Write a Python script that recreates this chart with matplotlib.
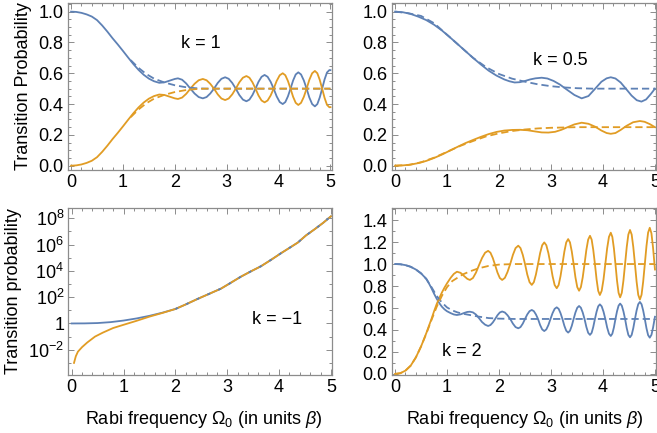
import numpy as np
import matplotlib
matplotlib.use("Agg")
import matplotlib.pyplot as plt
from matplotlib.ticker import MultipleLocator, FixedLocator, NullFormatter, FormatStrFormatter

plt.rcParams['font.family'] = ['Liberation Sans', 'DejaVu Sans']
plt.rcParams['mathtext.fontset'] = 'custom'
plt.rcParams['mathtext.rm'] = 'Liberation Sans'
plt.rcParams['mathtext.it'] = 'Liberation Sans:italic'
plt.rcParams['mathtext.bf'] = 'Liberation Sans:bold'

BLUE = '#5E81B5'
ORANGE = '#E19C24'
FRAME = '#8c8c8c'

# ---------------- k = 1 (top left) ----------------
k1_x = [0.0, 0.1, 0.2, 0.3, 0.4, 0.5, 0.6, 0.7, 0.8, 0.9, 1.0, 1.1, 1.2, 1.3, 1.4, 1.5,
        1.6, 1.7, 1.8, 1.9, 2.0, 2.06,
        2.14, 2.22, 2.30, 2.38, 2.46, 2.54,
        2.612, 2.683, 2.755, 2.827, 2.898, 2.97,
        3.038, 3.107, 3.175, 3.243, 3.312, 3.38,
        3.438, 3.497, 3.555, 3.613, 3.672, 3.73,
        3.788, 3.847, 3.905, 3.963, 4.022, 4.08,
        4.13, 4.18, 4.23, 4.28, 4.33, 4.38,
        4.433, 4.487, 4.54, 4.593, 4.647, 4.70,
        4.747, 4.793, 4.84, 4.887, 4.933, 4.98, 5.0]
k1_blue = [1.0, 0.998, 0.992, 0.982, 0.968, 0.945, 0.91, 0.87, 0.827, 0.787, 0.745, 0.702,
           0.66, 0.622, 0.59, 0.565, 0.548, 0.538, 0.541, 0.552, 0.563, 0.567,
           0.558, 0.5335, 0.5, 0.4685, 0.4455, 0.437,
           0.4455, 0.4685, 0.5, 0.537, 0.564, 0.574,
           0.564, 0.537, 0.5, 0.459, 0.429, 0.418,
           0.429, 0.459, 0.5, 0.5445, 0.577, 0.589,
           0.577, 0.5445, 0.5, 0.45, 0.413, 0.40,
           0.413, 0.45, 0.5, 0.553, 0.592, 0.606,
           0.592, 0.553, 0.5, 0.4425, 0.4, 0.385,
           0.4, 0.4425, 0.5, 0.5605, 0.605, 0.621, 0.62]
k1_orange = [0.0, 0.002, 0.008, 0.018, 0.032, 0.055, 0.09, 0.13, 0.173, 0.213, 0.255, 0.298,
             0.34, 0.378, 0.41, 0.435, 0.452, 0.462, 0.459, 0.448, 0.437, 0.433,
             0.442, 0.4665, 0.5, 0.5315, 0.5545, 0.563,
             0.5545, 0.5315, 0.5, 0.463, 0.436, 0.426,
             0.436, 0.463, 0.5, 0.541, 0.571, 0.582,
             0.571, 0.541, 0.5, 0.4555, 0.423, 0.411,
             0.423, 0.4555, 0.5, 0.55, 0.587, 0.60,
             0.587, 0.55, 0.5, 0.447, 0.408, 0.394,
             0.408, 0.447, 0.5, 0.5575, 0.6, 0.615,
             0.6, 0.5575, 0.5, 0.4395, 0.395, 0.379, 0.38]
k1_dash_x = [1.15, 1.3, 1.45, 1.6, 1.8, 2.0, 2.2, 2.4, 2.6, 5.0]
k1_dash_blue = [0.685, 0.635, 0.595, 0.565, 0.54, 0.522, 0.51, 0.503, 0.5, 0.5]
k1_dash_orange = [0.315, 0.365, 0.405, 0.435, 0.46, 0.478, 0.49, 0.497, 0.5, 0.5]

# ---------------- k = 0.5 (top right) ----------------
k05_bx = [0.0, 0.15, 0.3, 0.45, 0.6, 0.75, 0.9, 1.05, 1.2, 1.35, 1.5, 1.65, 1.8, 1.95,
          2.1, 2.2, 2.3, 2.4, 2.5, 2.6, 2.7, 2.82, 2.93, 3.05, 3.17, 3.3, 3.45, 3.59, 3.72,
          3.85, 3.97, 4.07, 4.15, 4.24, 4.34, 4.44, 4.55, 4.65, 4.74, 4.83, 4.92, 5.0]
k05_blue = [1.0, 0.996, 0.985, 0.967, 0.945, 0.915, 0.878, 0.835, 0.79, 0.745, 0.70, 0.657,
            0.617, 0.585, 0.56, 0.548, 0.54, 0.542, 0.55, 0.56, 0.567, 0.571, 0.566, 0.55,
            0.527, 0.495, 0.459, 0.437, 0.452, 0.5, 0.545, 0.567, 0.574, 0.566, 0.54, 0.5,
            0.455, 0.425, 0.416, 0.43, 0.465, 0.5]
k05_ox = [0.0, 0.15, 0.3, 0.45, 0.6, 0.75, 0.9, 1.05, 1.2, 1.35, 1.5, 1.65, 1.8, 1.95, 2.1,
          2.25, 2.4, 2.55, 2.7, 2.82, 2.95, 3.08, 3.2, 3.32, 3.45, 3.59, 3.72, 3.85, 3.97,
          4.07, 4.15, 4.24, 4.34, 4.45, 4.58, 4.71, 4.8, 4.9, 5.0]
k05_orange = [0.0, 0.002, 0.007, 0.017, 0.031, 0.05, 0.072, 0.097, 0.122, 0.146, 0.167,
              0.187, 0.205, 0.219, 0.228, 0.232, 0.233, 0.23, 0.222, 0.216, 0.215, 0.22,
              0.233, 0.25, 0.268, 0.279, 0.272, 0.253, 0.228, 0.212, 0.207, 0.212, 0.232,
              0.258, 0.282, 0.29, 0.285, 0.27, 0.25]
k05_dx = [0.0, 0.25, 0.5, 0.75, 1.0, 1.25, 1.5, 1.75, 2.0, 2.25, 2.5, 2.75, 3.0, 3.25, 3.5,
          3.8, 5.0]
k05_dash_blue = [1.0, 0.99, 0.972, 0.925, 0.85, 0.775, 0.70, 0.64, 0.595, 0.565, 0.545,
                 0.528, 0.516, 0.508, 0.503, 0.5, 0.5]
k05_dash_orange = [0.0, 0.004, 0.022, 0.052, 0.09, 0.128, 0.16, 0.19, 0.21, 0.225, 0.235,
                   0.242, 0.246, 0.248, 0.25, 0.25, 0.25]

# ---------------- k = -1 (bottom left, log scale) ----------------
km1_bx = [0.0, 0.25, 0.5, 0.75, 1.0, 1.25, 1.5, 1.75, 2.0, 2.2, 2.42, 2.65, 2.88, 3.05,
          3.26, 3.45, 3.65, 3.85, 4.04, 4.2, 4.36, 4.52, 4.68, 4.85, 5.0]
km1_blue = [1.0, 1.012, 1.072, 1.26, 1.66, 2.4, 3.8, 6.6, 12.6, 28, 71, 178, 447, 1120,
            3550, 8900, 2.24e4, 7.1e4, 2.24e5, 5.6e5, 1.41e6, 5.0e6, 1.41e7, 4.5e7, 1.41e8]
km1_ox = [0.045, 0.08, 0.12, 0.2, 0.3, 0.45, 0.6, 0.8, 1.0, 1.25, 1.5, 1.75, 2.0, 2.2, 2.42,
          2.65, 2.88, 3.05, 3.26, 3.45, 3.65, 3.85, 4.04, 4.2, 4.36, 4.52, 4.68, 4.85, 5.0]
km1_orange = [1.0e-3, 3.2e-3, 7.1e-3, 0.0158, 0.0355, 0.1, 0.2, 0.45, 0.79, 1.58, 3.3, 6.3,
              12.6, 28, 71, 178, 447, 1120, 3550, 8900, 2.24e4, 7.1e4, 2.24e5, 5.6e5,
              1.41e6, 5.0e6, 1.41e7, 4.5e7, 1.41e8]

# ---------------- k = 2 (bottom right) ----------------
k2_x = [0.0, 0.1, 0.2, 0.3, 0.4, 0.5, 0.6, 0.65, 0.7, 0.75, 0.8, 0.85, 0.9, 0.95, 1.0,
        1.07, 1.13, 1.19, 1.26, 1.33, 1.39, 1.44, 1.498, 1.557, 1.615, 1.673, 1.732, 1.79,
        1.835, 1.88, 1.925, 1.97, 2.015, 2.06,
        2.112, 2.163, 2.215, 2.267, 2.318, 2.37,
        2.413, 2.457, 2.5, 2.543, 2.587, 2.63,
        2.67, 2.71, 2.75, 2.79, 2.83, 2.87,
        2.91, 2.95, 2.99, 3.03, 3.07, 3.11,
        3.147, 3.183, 3.22, 3.257, 3.293, 3.33,
        3.365, 3.4, 3.435, 3.47, 3.505, 3.54,
        3.575, 3.61, 3.645, 3.68, 3.715, 3.75,
        3.782, 3.813, 3.845, 3.877, 3.908, 3.94,
        3.975, 4.01, 4.045, 4.08, 4.115, 4.15,
        4.18, 4.21, 4.24, 4.27, 4.3, 4.33,
        4.362, 4.393, 4.425, 4.457, 4.488, 4.52,
        4.552, 4.583, 4.615, 4.647, 4.678, 4.71,
        4.742, 4.773, 4.805, 4.837, 4.868, 4.90,
        4.932, 4.963, 5.0]
k2_blue = [1.0, 0.998, 0.99, 0.975, 0.95, 0.915, 0.865, 0.825, 0.78, 0.73, 0.685, 0.645,
           0.612, 0.588, 0.57, 0.553, 0.541, 0.536, 0.542, 0.555, 0.564, 0.566, 0.56,
           0.54, 0.507, 0.472, 0.448, 0.436,
           0.445, 0.468, 0.5, 0.534, 0.559, 0.568,
           0.559, 0.534, 0.5, 0.4575, 0.426, 0.415,
           0.426, 0.4575, 0.5, 0.541, 0.571, 0.582,
           0.571, 0.541, 0.5, 0.445, 0.405, 0.39,
           0.405, 0.445, 0.5, 0.553, 0.592, 0.606,
           0.592, 0.553, 0.5, 0.438, 0.393, 0.376,
           0.393, 0.438, 0.5, 0.559, 0.602, 0.618,
           0.602, 0.559, 0.5, 0.4275, 0.374, 0.355,
           0.374, 0.4275, 0.5, 0.5665, 0.615, 0.633,
           0.615, 0.5665, 0.5, 0.4225, 0.366, 0.345,
           0.366, 0.4225, 0.5, 0.57, 0.621, 0.64,
           0.621, 0.57, 0.5, 0.4165, 0.355, 0.333,
           0.355, 0.4165, 0.5, 0.5775, 0.634, 0.655,
           0.634, 0.5775, 0.5, 0.415, 0.353, 0.33,
           0.355, 0.42, 0.52]
k2_orange = [0.0, 0.006, 0.03, 0.075, 0.15, 0.25, 0.37, 0.435, 0.5, 0.57, 0.635, 0.69,
             0.74, 0.785, 0.825, 0.875, 0.91, 0.93, 0.92, 0.89, 0.865, 0.855, 0.873,
             0.9225, 0.99, 1.055, 1.103, 1.12,
             1.103, 1.055, 0.99, 0.9225, 0.873, 0.855,
             0.874, 0.9275, 1.0, 1.0835, 1.145, 1.167,
             1.145, 1.0835, 1.0, 0.905, 0.835, 0.81,
             0.835, 0.905, 1.0, 1.0985, 1.171, 1.197,
             1.171, 1.0985, 1.0, 0.89, 0.809, 0.78,
             0.809, 0.89, 1.0, 1.1135, 1.197, 1.227,
             1.197, 1.1135, 1.0, 0.8785, 0.79, 0.757,
             0.79, 0.8785, 1.0, 1.1285, 1.2225, 1.257,
             1.2225, 1.1285, 1.0, 0.859, 0.756, 0.718,
             0.756, 0.859, 1.0, 1.1425, 1.247, 1.285,
             1.247, 1.1425, 1.0, 0.8485, 0.738, 0.697,
             0.738, 0.8485, 1.0, 1.155, 1.2685, 1.31,
             1.2685, 1.155, 1.0, 0.8385, 0.72, 0.677,
             0.72, 0.8385, 1.0, 1.165, 1.286, 1.33,
             1.28, 1.15, 0.95]
k2_dx = [0.0, 0.1, 0.2, 0.3, 0.4, 0.5, 0.6, 0.7, 0.8, 0.9, 1.0, 1.1, 1.2, 1.3, 1.45, 1.6,
         1.8, 2.0, 2.3, 5.0]
k2_dash_blue = [1.0, 0.998, 0.99, 0.975, 0.95, 0.915, 0.865, 0.79, 0.71, 0.65, 0.605, 0.578,
                0.56, 0.548, 0.535, 0.522, 0.508, 0.503, 0.5, 0.5]
k2_dash_orange = [0.0, 0.006, 0.03, 0.075, 0.15, 0.25, 0.365, 0.49, 0.61, 0.71, 0.79, 0.845,
                  0.875, 0.905, 0.935, 0.96, 0.983, 0.995, 1.0, 1.0]

XLABEL = r'Rabi frequency $\Omega_0$ (in units $\it{\beta}$)'
FS = 13

W, H = 657, 433
fig = plt.figure(figsize=(W / 100, H / 100), dpi=100)


def px_axes(left, top, right, bottom):
    return fig.add_axes([left / W, 1 - bottom / H, (right - left) / W, (bottom - top) / H])


def style(ax):
    for s in ax.spines.values():
        s.set_color(FRAME)
        s.set_linewidth(0.9)
    ax.tick_params(which='both', direction='in', top=True, right=True, color=FRAME,
                   labelsize=FS, labelcolor='black', width=0.7)
    ax.tick_params(which='major', length=4, pad=3)
    ax.tick_params(which='minor', length=2)


LW = 1.3
DASH = (0, (4.0, 2.2))

ax1 = px_axes(67.7, 3, 331.5, 170)
ax2 = px_axes(391.7, 3, 656, 170)
ax3 = px_axes(68.3, 208, 332, 375)
ax4 = px_axes(391.7, 208, 656, 375)

for ax in (ax1, ax2, ax3, ax4):
    style(ax)
    ax.set_xlim(-0.065, 5.02)
    ax.xaxis.set_major_locator(MultipleLocator(1))
    ax.xaxis.set_minor_locator(MultipleLocator(0.2))

# top-left
ax1.plot(k1_x, k1_blue, color=BLUE, lw=LW)
ax1.plot(k1_x, k1_orange, color=ORANGE, lw=LW)
ax1.plot(k1_dash_x, k1_dash_blue, color=BLUE, lw=LW, linestyle=DASH)
ax1.plot(k1_dash_x, k1_dash_orange, color=ORANGE, lw=LW, linestyle=DASH)
ax1.set_ylim(-0.028, 1.056)
ax1.yaxis.set_major_locator(MultipleLocator(0.2))
ax1.yaxis.set_minor_locator(MultipleLocator(0.05))
ax1.yaxis.set_major_formatter(FormatStrFormatter('%.1f'))
ax1.set_ylabel('Transition Probability', fontsize=FS)
ax1.yaxis.set_label_coords(-0.136, 0.5)
ax1.text(2.5, 0.795, 'k = 1', fontsize=FS, ha='center', va='center')

# top-right
ax2.plot(k05_bx, k05_blue, color=BLUE, lw=LW)
ax2.plot(k05_ox, k05_orange, color=ORANGE, lw=LW)
ax2.plot(k05_dx, k05_dash_blue, color=BLUE, lw=LW, linestyle=DASH)
ax2.plot(k05_dx, k05_dash_orange, color=ORANGE, lw=LW, linestyle=DASH)
ax2.set_ylim(-0.028, 1.056)
ax2.yaxis.set_major_locator(MultipleLocator(0.2))
ax2.yaxis.set_minor_locator(MultipleLocator(0.05))
ax2.yaxis.set_major_formatter(FormatStrFormatter('%.1f'))
ax2.text(3.17, 0.686, 'k = 0.5', fontsize=FS, ha='center', va='center')

# bottom-left
ax3.set_yscale('log')
ax3.plot(km1_bx, km1_blue, color=BLUE, lw=LW)
ax3.plot(km1_ox, km1_orange, color=ORANGE, lw=LW)
ax3.plot(km1_bx[8:], km1_blue[8:], color=BLUE, lw=LW, linestyle=(0, (1.5, 5)))
ax3.set_ylim(10 ** -3.92, 10 ** 8.78)
ax3.yaxis.set_major_locator(FixedLocator([1e-2, 1, 1e2, 1e4, 1e6, 1e8]))
ax3.yaxis.set_minor_locator(FixedLocator([1e-3, 1e-1, 1e1, 1e3, 1e5, 1e7]))
ax3.yaxis.set_minor_formatter(NullFormatter())
ax3.set_yticklabels([r'$10^{-2}$', '1', r'$10^{2}$', r'$10^{4}$', r'$10^{6}$', r'$10^{8}$'])
ax3.set_ylabel('Transition probability', fontsize=FS)
ax3.yaxis.set_label_coords(-0.176, 0.5)
ax3.text(3.97, 2.1, 'k = \u22121', fontsize=FS, ha='center', va='center')
ax3.set_xlabel(XLABEL, fontsize=FS)
ax3.xaxis.set_label_coords(0.515, -0.205)

# bottom-right
ax4.plot(k2_x, k2_blue, color=BLUE, lw=LW)
ax4.plot(k2_x, k2_orange, color=ORANGE, lw=LW)
ax4.plot(k2_dx, k2_dash_blue, color=BLUE, lw=LW, linestyle=DASH)
ax4.plot(k2_dx, k2_dash_orange, color=ORANGE, lw=LW, linestyle=DASH)
ax4.set_ylim(-0.01, 1.51)
ax4.yaxis.set_major_locator(MultipleLocator(0.2))
ax4.yaxis.set_minor_locator(MultipleLocator(0.1))
ax4.yaxis.set_major_formatter(FormatStrFormatter('%.1f'))
ax4.text(1.28, 0.2, 'k = 2', fontsize=FS, ha='center', va='center')
ax4.set_xlabel(XLABEL, fontsize=FS)
ax4.xaxis.set_label_coords(0.505, -0.205)

fig.savefig('out.png', dpi=100)
